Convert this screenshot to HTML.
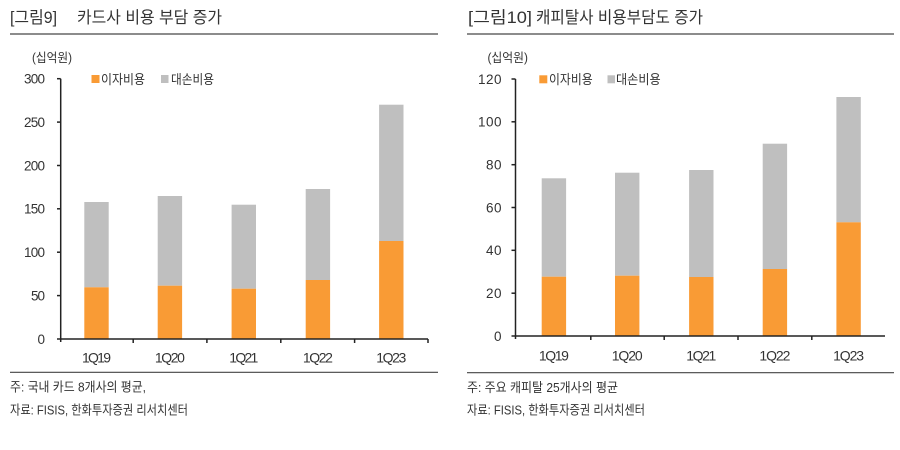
<!DOCTYPE html>
<html>
<head>
<meta charset="utf-8">
<style>
html,body{margin:0;padding:0;background:#fff;}
svg{display:block;}
text{font-family:"Liberation Sans","Noto Sans CJK KR",sans-serif;fill:#333;}
</style>
</head>
<body>
<svg width="900" height="450" viewBox="0 0 900 450" xmlns="http://www.w3.org/2000/svg">
  <rect x="0" y="0" width="900" height="450" fill="#fff"/>

  <!-- ===== LEFT CHART ===== -->
  <text x="10" y="23" font-size="16.5" textLength="47" lengthAdjust="spacingAndGlyphs">[그림9]</text>
  <text x="77" y="23" font-size="16.5" textLength="145" lengthAdjust="spacingAndGlyphs">카드사 비용 부담 증가</text>
  <line x1="10" y1="34" x2="438" y2="34" stroke="#666" stroke-width="1.6"/>

  <text x="32" y="62" font-size="12.5" textLength="40" lengthAdjust="spacingAndGlyphs">(십억원)</text>

  <!-- legend -->
  <rect x="91.5" y="75" width="8" height="8" fill="#F99B35"/>
  <text x="101" y="83.8" font-size="13" textLength="44" lengthAdjust="spacingAndGlyphs">이자비용</text>
  <rect x="161" y="75" width="7.5" height="8" fill="#BFBFBF"/>
  <text x="171" y="83.8" font-size="13" textLength="43" lengthAdjust="spacingAndGlyphs">대손비용</text>

  <!-- y labels -->
  <g font-size="13.5" text-anchor="end" lengthAdjust="spacingAndGlyphs">
    <text x="45" y="343.8" textLength="7">0</text>
    <text x="45" y="300.4" textLength="14">50</text>
    <text x="45" y="257" textLength="21">100</text>
    <text x="45" y="213.6" textLength="21">150</text>
    <text x="45" y="170.3" textLength="21">200</text>
    <text x="45" y="126.9" textLength="21">250</text>
    <text x="45" y="83.5" textLength="21">300</text>
  </g>

  <!-- bars -->
  <g>
    <rect x="84.3" y="202" width="24.4" height="85.3" fill="#BFBFBF"/>
    <rect x="84.3" y="287.3" width="24.4" height="51.7" fill="#F99B35"/>
    <rect x="157.7" y="196" width="24.4" height="89.7" fill="#BFBFBF"/>
    <rect x="157.7" y="285.7" width="24.4" height="53.3" fill="#F99B35"/>
    <rect x="231.6" y="204.7" width="24.4" height="84" fill="#BFBFBF"/>
    <rect x="231.6" y="288.7" width="24.4" height="50.3" fill="#F99B35"/>
    <rect x="305.7" y="189" width="24.4" height="91" fill="#BFBFBF"/>
    <rect x="305.7" y="280" width="24.4" height="59" fill="#F99B35"/>
    <rect x="379.1" y="104.7" width="24.4" height="136.3" fill="#BFBFBF"/>
    <rect x="379.1" y="241" width="24.4" height="98" fill="#F99B35"/>
  </g>

  <!-- axes -->
  <g stroke="#222" stroke-width="1.5" fill="none">
    <line x1="60.7" y1="78.7" x2="60.7" y2="342"/>
    <line x1="60.7" y1="339" x2="428" y2="339"/>
    <line x1="57" y1="78.7" x2="60.7" y2="78.7"/>
    <line x1="57" y1="122.1" x2="60.7" y2="122.1"/>
    <line x1="57" y1="165.5" x2="60.7" y2="165.5"/>
    <line x1="57" y1="208.8" x2="60.7" y2="208.8"/>
    <line x1="57" y1="252.2" x2="60.7" y2="252.2"/>
    <line x1="57" y1="295.6" x2="60.7" y2="295.6"/>
    <line x1="57" y1="339" x2="60.7" y2="339"/>
    <line x1="133.2" y1="339" x2="133.2" y2="343"/>
    <line x1="206.9" y1="339" x2="206.9" y2="343"/>
    <line x1="280.8" y1="339" x2="280.8" y2="343"/>
    <line x1="354.6" y1="339" x2="354.6" y2="343"/>
    <line x1="428" y1="339" x2="428" y2="343"/>
  </g>

  <!-- x labels -->
  <g font-size="14" text-anchor="middle" lengthAdjust="spacingAndGlyphs">
    <text x="96.5" y="362.3" textLength="29">1Q19</text>
    <text x="169.9" y="362.3" textLength="30">1Q20</text>
    <text x="243.8" y="362.3" textLength="29">1Q21</text>
    <text x="317.9" y="362.3" textLength="30">1Q22</text>
    <text x="391.3" y="362.3" textLength="30">1Q23</text>
  </g>

  <line x1="10" y1="372.3" x2="438" y2="372.3" stroke="#444" stroke-width="1.2"/>
  <text x="10" y="391.5" font-size="13" textLength="136" lengthAdjust="spacingAndGlyphs">주: 국내 카드 8개사의 평균,</text>
  <text x="10" y="414.5" font-size="13" textLength="178" lengthAdjust="spacingAndGlyphs">자료: FISIS, 한화투자증권 리서치센터</text>

  <!-- ===== RIGHT CHART ===== -->
  <text x="468" y="23" font-size="16.5" textLength="64" lengthAdjust="spacingAndGlyphs">[그림10]</text>
  <text x="536" y="23" font-size="16.5" textLength="167" lengthAdjust="spacingAndGlyphs">캐피탈사 비용부담도 증가</text>
  <line x1="467" y1="34" x2="894" y2="34" stroke="#666" stroke-width="1.6"/>

  <text x="487.5" y="62" font-size="12.5" textLength="40.5" lengthAdjust="spacingAndGlyphs">(십억원)</text>

  <rect x="539.3" y="75.3" width="8" height="8" fill="#F99B35"/>
  <text x="549" y="83.8" font-size="13" textLength="43.7" lengthAdjust="spacingAndGlyphs">이자비용</text>
  <rect x="607.5" y="75.3" width="7.5" height="8" fill="#BFBFBF"/>
  <text x="616" y="83.8" font-size="13" textLength="44.7" lengthAdjust="spacingAndGlyphs">대손비용</text>

  <g font-size="13.5" text-anchor="end" lengthAdjust="spacingAndGlyphs">
    <text x="501.5" y="340.8" textLength="8">0</text>
    <text x="501.5" y="298" textLength="15.5">20</text>
    <text x="501.5" y="255.1" textLength="15.5">40</text>
    <text x="501.5" y="212.3" textLength="15.5">60</text>
    <text x="501.5" y="169.5" textLength="15.5">80</text>
    <text x="501.5" y="126.6" textLength="23.5">100</text>
    <text x="501.5" y="83.8" textLength="23.5">120</text>
  </g>

  <g>
    <rect x="541.7" y="178.3" width="24.4" height="98.4" fill="#BFBFBF"/>
    <rect x="541.7" y="276.7" width="24.4" height="59.3" fill="#F99B35"/>
    <rect x="615" y="172.7" width="24.4" height="103" fill="#BFBFBF"/>
    <rect x="615" y="275.7" width="24.4" height="60.3" fill="#F99B35"/>
    <rect x="689.1" y="170" width="24.4" height="107" fill="#BFBFBF"/>
    <rect x="689.1" y="277" width="24.4" height="59" fill="#F99B35"/>
    <rect x="762.7" y="143.7" width="24.4" height="125.3" fill="#BFBFBF"/>
    <rect x="762.7" y="269" width="24.4" height="67" fill="#F99B35"/>
    <rect x="836.4" y="97" width="24.4" height="125.3" fill="#BFBFBF"/>
    <rect x="836.4" y="222.3" width="24.4" height="113.7" fill="#F99B35"/>
  </g>

  <g stroke="#222" stroke-width="1.5" fill="none">
    <line x1="515.5" y1="79" x2="515.5" y2="339"/>
    <line x1="515.5" y1="336" x2="885" y2="336"/>
    <line x1="511.5" y1="79" x2="515.5" y2="79"/>
    <line x1="511.5" y1="121.8" x2="515.5" y2="121.8"/>
    <line x1="511.5" y1="164.7" x2="515.5" y2="164.7"/>
    <line x1="511.5" y1="207.5" x2="515.5" y2="207.5"/>
    <line x1="511.5" y1="250.3" x2="515.5" y2="250.3"/>
    <line x1="511.5" y1="293.2" x2="515.5" y2="293.2"/>
    <line x1="511.5" y1="336" x2="515.5" y2="336"/>
    <line x1="590.8" y1="336" x2="590.8" y2="340"/>
    <line x1="664.2" y1="336" x2="664.2" y2="340"/>
    <line x1="738" y1="336" x2="738" y2="340"/>
    <line x1="811.8" y1="336" x2="811.8" y2="340"/>
  </g>

  <g font-size="14" text-anchor="middle" lengthAdjust="spacingAndGlyphs">
    <text x="553.9" y="360.3" textLength="30">1Q19</text>
    <text x="627.2" y="360.3" textLength="31">1Q20</text>
    <text x="701.3" y="360.3" textLength="30">1Q21</text>
    <text x="774.9" y="360.3" textLength="31">1Q22</text>
    <text x="848.6" y="360.3" textLength="31">1Q23</text>
  </g>

  <line x1="467" y1="372.7" x2="894" y2="372.7" stroke="#444" stroke-width="1.2"/>
  <text x="467" y="392" font-size="13" textLength="151" lengthAdjust="spacingAndGlyphs">주: 주요 캐피탈 25개사의 평균</text>
  <text x="467" y="414.5" font-size="13" textLength="178" lengthAdjust="spacingAndGlyphs">자료: FISIS, 한화투자증권 리서치센터</text>
</svg>
</body>
</html>
